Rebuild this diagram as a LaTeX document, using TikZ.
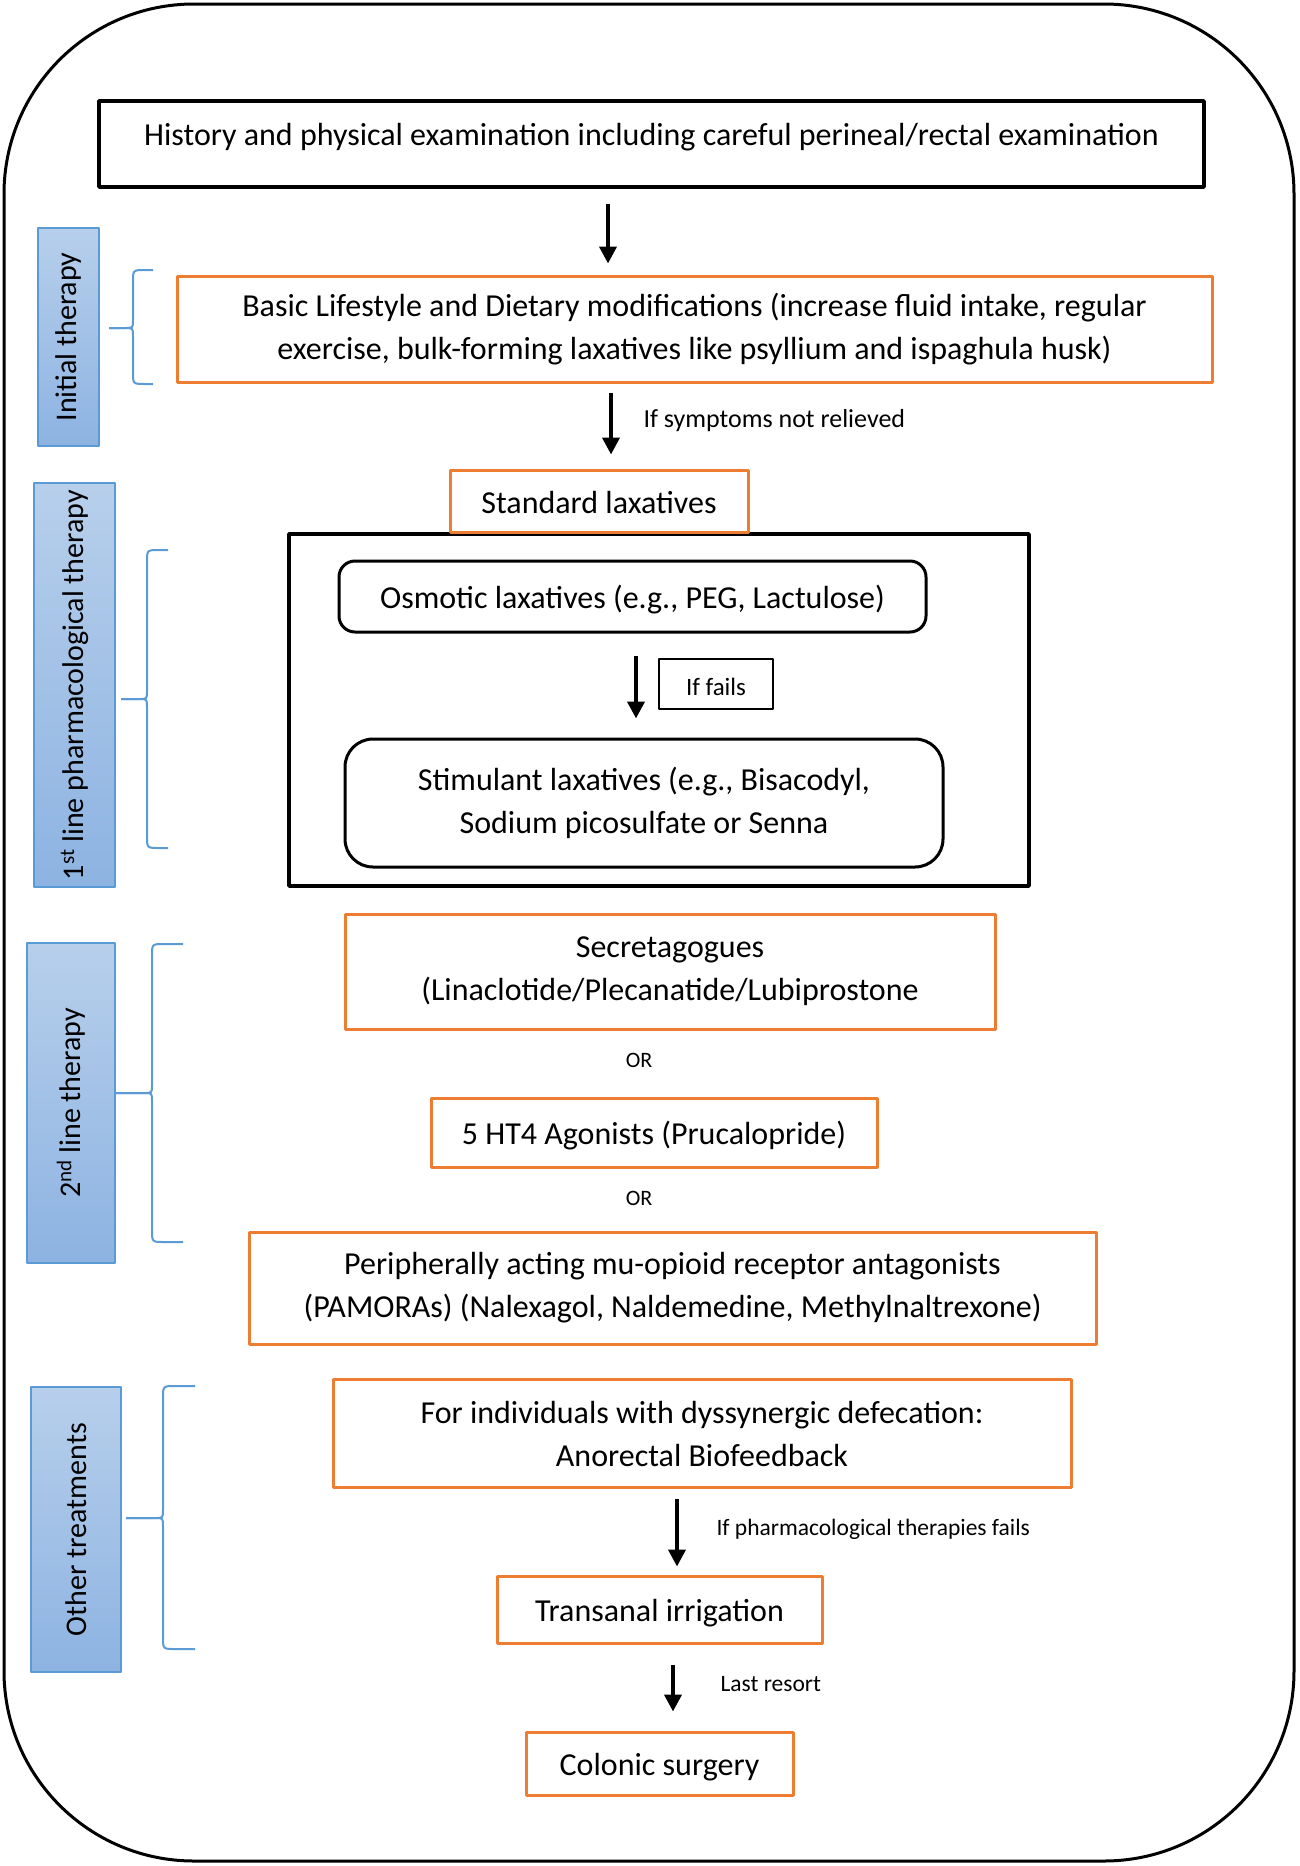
\documentclass[tikz,border=0pt]{standalone}
\usepackage{fontspec}
\setmainfont{Carlito}
\usetikzlibrary{arrows.meta}
\definecolor{orng}{HTML}{ED7D31}
\definecolor{bracebl}{HTML}{5B9BD5}
\definecolor{sidetop}{HTML}{B7CFEB}
\definecolor{sidebot}{HTML}{8DB3E2}
\newcommand{\mainfs}{\fontsize{32}{43}\selectfont}
\newcommand{\notefs}{\fontsize{25}{30}\selectfont}
\tikzset{flow/.style={line join=round,>={Triangle[length=17pt,width=17pt]}},
  obox/.style={draw=orng,line width=3pt,align=center,font=\mainfs,inner sep=0pt},
  kbox/.style={draw,line width=3.5pt,align=center,font=\mainfs,inner sep=0pt},
  rbox/.style={kbox,line width=3pt,rounded corners=#1},
  oneline/.style={text height=28pt,text depth=4pt},
  side/.style={draw=bracebl,line width=2pt,rotate=90,top color=sidetop,bottom color=sidebot,
    font=\fontsize{30}{36}\selectfont,inner sep=0pt},
  note/.style={font=\notefs,anchor=west},
  arr/.style={->,line width=4pt}}
\newcommand{\sideBrace}[6]{\draw[bracebl,line width=2pt](#3,#4)--(#2+12,#4)..controls(#2,#4)..(#2,#4+12)--(#2,#6-8)..controls(#2,#6)..(#2-8,#6)--(#1,#6);
  \draw[bracebl,line width=2pt](#1,#6)--(#2-8,#6)..controls(#2,#6)..(#2,#6+8)--(#2,#5-12)..controls(#2,#5)..(#2+12,#5)--(#3,#5);}

\begin{document}
\begin{tikzpicture}[flow,x=1pt,y=-1pt]
  \useasboundingbox (0,0) rectangle (1299,1866);
  \draw[line width=3pt,rounded corners=190pt] (4,4) rectangle (1294,1861);
  % side labels
  \node[side,minimum width=218pt,minimum height=61pt] (init) at (68.5,337) {Initial therapy};
  \node[side,minimum width=404pt,minimum height=81pt] (first) at (74.5,685) {1\textsuperscript{st} line pharmacological therapy};
  \node[side,minimum width=320pt,minimum height=88pt] (second) at (71,1103) {2\textsuperscript{nd} line therapy};
  \node[side,minimum width=285pt,minimum height=90pt] (other) at (76,1529.5) {Other treatments};
  \sideBrace{109}{133}{153}{270}{384}{328}
  \sideBrace{121}{147}{168}{550}{848}{699}
  \sideBrace{116}{152}{183}{944}{1242}{1093}
  \sideBrace{126}{163}{195}{1386}{1649}{1518}
  % boxes
  \node[kbox,minimum width=1105pt,minimum height=86pt,text height=44.4pt,text depth=41.6pt] (hist) at (651.5,144)
    {History and physical examination including careful perineal/rectal examination};
  \node[obox,minimum width=1035pt,minimum height=106pt] (life) at (694.5,329)
    {Basic Lifestyle and Dietary modifications (increase fluid intake, regular\\exercise, bulk-forming laxatives like psyllium and ispaghula husk)};
  \node[kbox,minimum width=740pt,minimum height=352pt] (frame) at (659,710) {};
  \node[obox,oneline,minimum width=298pt,minimum height=62pt] (std) at (599,501) {Standard laxatives};
  \node[rbox=16pt,oneline,minimum width=587pt,minimum height=71pt] (osm) at (632.5,596.5) {Osmotic laxatives (e.g., PEG, Lactulose)};
  \node[draw,line width=1.5pt,font=\notefs,text height=24pt,text depth=2pt,minimum width=114pt,minimum height=50pt] (iff) at (716,684) {If fails};
  \node[rbox=28pt,minimum width=598pt,minimum height=128pt] (stim) at (644,803)
    {Stimulant laxatives (e.g., Bisacodyl,\\Sodium picosulfate or Senna};
  \node[obox,minimum width=650pt,minimum height=115pt] (sec) at (670,971.5)
    {Secretagogues\\(Linaclotide/Plecanatide/Lubiprostone};
  \node[font=\fontsize{22}{26}\selectfont] (or1) at (639,1060) {OR};
  \node[obox,oneline,minimum width=446pt,minimum height=69pt] (ht4) at (654,1132.5) {5 HT4 Agonists (Prucalopride)};
  \node[font=\fontsize{22}{26}\selectfont] (or2) at (639,1198) {OR};
  \node[obox,minimum width=847pt,minimum height=112pt] (pam) at (672.5,1288)
    {Peripherally acting mu-opioid receptor antagonists\\(PAMORAs) (Nalexagol, Naldemedine, Methylnaltrexone)};
  \node[obox,minimum width=738pt,minimum height=108pt] (dys) at (702,1433.5)
    {For individuals with dyssynergic defecation:\\Anorectal Biofeedback};
  \node[obox,oneline,minimum width=325pt,minimum height=67pt] (trans) at (659.5,1609.5) {Transanal irrigation};
  \node[obox,oneline,minimum width=267pt,minimum height=63pt] (col) at (659.5,1763.5) {Colonic surgery};
  % arrows
  \draw[arr,shorten <=15pt,shorten >=11pt] ([xshift=-43.5pt]hist.south) -- ([xshift=-43.5pt]hist.south |- life.north);
  \draw[arr,shorten <=9pt,shorten >=14pt] ([xshift=-83.5pt]life.south) -- ([xshift=-83.5pt]life.south |- std.north);
  \draw[arr,shorten <=22pt,shorten >=19pt] ([xshift=3.5pt]osm.south) -- ([xshift=3.5pt]osm.south |- stim.north);
  \draw[arr,shorten <=10pt,shorten >=8pt] ([xshift=-25pt]dys.south) -- ([xshift=-25pt]dys.south |- trans.north);
  \draw[arr,shorten <=20pt,shorten >=19pt] ([xshift=13.5pt]trans.south) -- ([xshift=13.5pt]trans.south |- col.north);
  \node[note,font=\fontsize{26}{30}\selectfont] (symp) at (640,421) {If symptoms not relieved};
  \node[note,font=\fontsize{23.5}{28}\selectfont] (pharm) at (713,1529) {If pharmacological therapies fails};
  \node[note,font=\fontsize{23.5}{28}\selectfont] (last) at (717,1684) {Last resort};
\end{tikzpicture}
\end{document}
